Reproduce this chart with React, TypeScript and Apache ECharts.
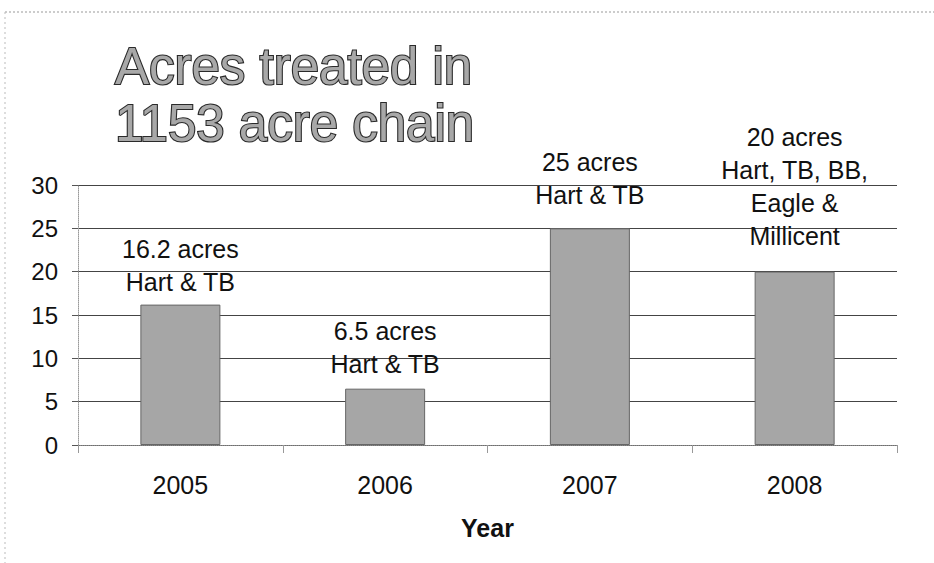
import React, { useEffect, useRef } from "react";
import * as echarts from "echarts";

const titleText = "Acres treated in\n1153 acre chain";
const years = ["2005", "2006", "2007", "2008"];
const acres = [16.2, 6.5, 25, 20];
const barLabels = [
  "16.2 acres\nHart & TB",
  "6.5 acres\nHart & TB",
  "25 acres\nHart & TB",
  "20 acres\nHart, TB, BB,\nEagle &\nMillicent",
];
const labelGaps = [6, 8, 17, 19];
const yTicks = { min: 0, max: 30, interval: 5 };

export default function App() {
  const ref = useRef<HTMLDivElement>(null);
  useEffect(() => {
    document.body.style.margin = "0";
    const chart = echarts.init(ref.current!, null, { renderer: "svg" });
    const font = "'Liberation Sans', Arial, sans-serif";
    chart.setOption({
      animation: false,
      backgroundColor: "#ffffff",
      title: {
        text: titleText,
        left: 110,
        top: 33,
        textStyle: {
          fontFamily: font,
          fontSize: 51,
          fontWeight: "normal",
          lineHeight: 57,
          color: "#a8a8a8",
          textBorderColor: "#2a2a2a",
          textBorderWidth: 2.2,
        },
      },
      grid: { left: 78, right: 37, top: 185, bottom: 118 },
      xAxis: {
        type: "category",
        data: years,
        name: "Year",
        nameLocation: "middle",
        nameGap: 70,
        nameTextStyle: { fontFamily: font, fontSize: 25, fontWeight: "bold", color: "#111" },
        axisLine: { lineStyle: { color: "#888", type: "dotted" } },
        axisTick: { show: true, length: 8, lineStyle: { color: "#999" } },
        axisLabel: { fontFamily: font, fontSize: 25, color: "#111", margin: 27 },
      },
      yAxis: {
        type: "value",
        min: yTicks.min,
        max: yTicks.max,
        interval: yTicks.interval,
        axisLine: { show: true, lineStyle: { color: "#999", type: "dotted" } },
        axisTick: { show: true, length: 6, lineStyle: { color: "#555" } },
        axisLabel: { fontFamily: font, fontSize: 24, color: "#111", margin: 20 },
        splitLine: { lineStyle: { color: "#444", width: 1 } },
      },
      series: [
        {
          type: "bar",
          barWidth: 80,
          data: acres.map((v, i) => ({
            value: v,
            label: {
              show: true,
              position: "top",
              distance: labelGaps[i],
              formatter: barLabels[i],
              fontFamily: font,
              fontSize: 25,
              lineHeight: 33,
              color: "#111",
              align: "center",
            },
          })),
          itemStyle: { color: "#a6a6a6", borderColor: "#666", borderWidth: 1 },
        },
      ],
      graphic: [
        { type: "line", shape: { x1: 5, y1: 12, x2: 934, y2: 12 }, style: { stroke: "#999", lineDash: [2, 2], lineWidth: 1 } },
        { type: "line", shape: { x1: 5, y1: 12, x2: 5, y2: 563 }, style: { stroke: "#bbb", lineDash: [2, 3], lineWidth: 1 } },
      ],
    });
    return () => chart.dispose();
  }, []);
  return <div ref={ref} style={{ width: 934, height: 563 }} />;
}
